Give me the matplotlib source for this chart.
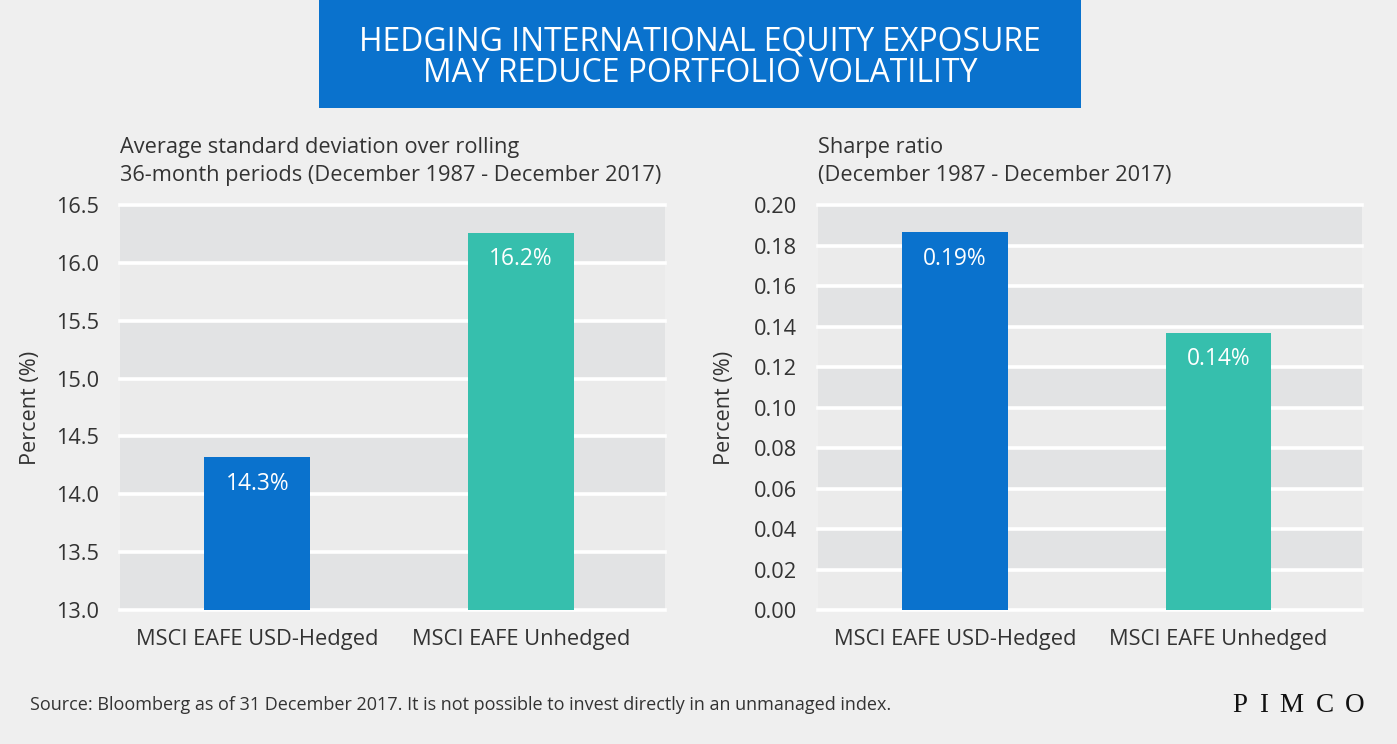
import matplotlib
matplotlib.use("Agg")
import matplotlib.pyplot as plt
from matplotlib.patches import Rectangle
import numpy as np

# ---------------- data ----------------
categories = ["MSCI EAFE USD-Hedged", "MSCI EAFE Unhedged"]
std_values = [14.32, 16.26]
std_labels = ["14.3%", "16.2%"]
sharpe_values = [0.1865, 0.1368]
sharpe_labels = ["0.19%", "0.14%"]
std_ticks = [13.0, 13.5, 14.0, 14.5, 15.0, 15.5, 16.0, 16.5]
std_ticklabels = ["13.0", "13.5", "14.0", "14.5", "15.0", "15.5", "16.0", "16.5"]
sharpe_ticks = [0.00, 0.02, 0.04, 0.06, 0.08, 0.10, 0.12, 0.14, 0.16, 0.18, 0.20]
sharpe_ticklabels = ["0.00", "0.02", "0.04", "0.06", "0.08", "0.10",
                     "0.12", "0.14", "0.16", "0.18", "0.20"]
title_lines = ["HEDGING INTERNATIONAL EQUITY EXPOSURE",
               "MAY REDUCE PORTFOLIO VOLATILITY"]
left_sub = ["Average standard deviation over rolling",
            "36-month periods (December 1987 - December 2017)"]
right_sub = ["Sharpe ratio", "(December 1987 - December 2017)"]
ylabel = "Percent (%)"
footer = "Source: Bloomberg as of 31 December 2017. It is not possible to invest directly in an unmanaged index."
logo = "PIMCO"

# ---------------- style ----------------
BG = "#efefef"
DARK = "#e2e3e4"
LIGHT = "#ebebeb"
BLUE = "#0a72cd"
TEAL = "#36bfad"
TXT = "#333333"
W, H = 1397, 744

plt.rcParams["font.family"] = ["Open Sans", "DejaVu Sans"]

fig = plt.figure(figsize=(W / 100, H / 100), dpi=100, facecolor=BG)
renderer = fig.canvas.get_renderer()


def fit_size(s, target, base=12.0, **kw):
    t = fig.text(0, 0, s, fontsize=base, **kw)
    w = t.get_window_extent(renderer).width
    t.remove()
    return base * target / w


def fx(x):
    return x / W


def fy(y):
    return 1 - y / H


title_fs = fit_size(title_lines[0], 680)
sub_fs = fit_size(left_sub[1], 537)
tick_fs = fit_size("16.5", 43)
cat_fs = fit_size(categories[0], 242)
bar_fs = fit_size(std_labels[0], 64)
ylab_fs = fit_size(ylabel, 113)
foot_fs = fit_size(footer, 856)

# title box
fig.patches.append(Rectangle((fx(319), fy(108)), fx(762), 108 / H,
                             transform=fig.transFigure, facecolor=BLUE,
                             edgecolor="none", zorder=0))
fig.text(fx(700), fy(42), title_lines[0], ha="center", va="center",
         color="white", fontsize=title_fs)
fig.text(fx(700), fy(73), title_lines[1], ha="center", va="center",
         color="white", fontsize=title_fs)

AX_TOP, AX_BOT = 205, 610
panels = [
    (120, 545, std_values, std_labels, std_ticks, std_ticklabels, left_sub, 41),
    (818, 544, sharpe_values, sharpe_labels, sharpe_ticks, sharpe_ticklabels, right_sub, 735),
]

for (x0, w, vals, labs, ticks, tlabs, sub, ylab_x) in panels:
    ax = fig.add_axes([fx(x0), fy(AX_BOT), w / W, (AX_BOT - AX_TOP) / H])
    ax.set_facecolor(BG)
    ax.set_xlim(-0.52, 1.545)
    ax.set_ylim(ticks[0], ticks[-1])
    n = len(ticks) - 1
    for i in range(n):
        col = DARK if (n - 1 - i) % 2 == 0 else LIGHT
        ax.axhspan(ticks[i], ticks[i + 1], color=col, lw=0, zorder=0)
    ax.set_yticks(ticks, tlabs)
    ax.set_axisbelow(True)
    ax.grid(axis="y", color="white", lw=2.6)
    for gl in ax.get_ygridlines():
        gl.set_clip_on(False)
    ax.bar(range(len(vals)), vals, width=0.4, color=[BLUE, TEAL], zorder=2)
    for i, (v, l) in enumerate(zip(vals, labs)):
        ax.annotate(l, (i, v), xytext=(0, -19), textcoords="offset points",
                    ha="center", va="center", color="white", fontsize=bar_fs,
                    zorder=3)
    ax.set_xticks(range(len(categories)), categories)
    for s in ax.spines.values():
        s.set_visible(False)
    ax.tick_params(axis="y", length=0, pad=15, labelsize=tick_fs, labelcolor=TXT)
    ax.tick_params(axis="x", length=0, pad=14, labelsize=cat_fs, labelcolor=TXT)
    ax.set_ylabel(ylabel, fontsize=ylab_fs, color=TXT)
    ax.yaxis.set_label_coords((ylab_x - x0) / w, 0.5)
    fig.text(fx(x0), fy(147), sub[0], ha="left", va="center", color=TXT, fontsize=sub_fs)
    fig.text(fx(x0), fy(175), sub[1], ha="left", va="center", color=TXT, fontsize=sub_fs)

# footer
fig.text(fx(30), fy(705), footer, ha="left", va="center", color=TXT, fontsize=foot_fs)

# letter-spaced logo
logo_kw = dict(family=["Liberation Serif", "DejaVu Serif"], fontsize=19.5, color="#111111")
meas = fig.text(0, 0, "", **logo_kw)


def tw(s):
    meas.set_text(s)
    return meas.get_window_extent(renderer).width


bar_w = tw("|")
adv = [0.0] + [tw(logo[:i] + "|") - bar_w for i in range(1, len(logo))]
natural = tw(logo)
meas.remove()
spacing = (133 - natural) / (len(logo) - 1)
for i, ch in enumerate(logo):
    fig.text(fx(1232 + adv[i] + i * spacing), fy(705), ch, ha="left", va="center", **logo_kw)

fig.savefig("out.png", dpi=100, facecolor=BG)
